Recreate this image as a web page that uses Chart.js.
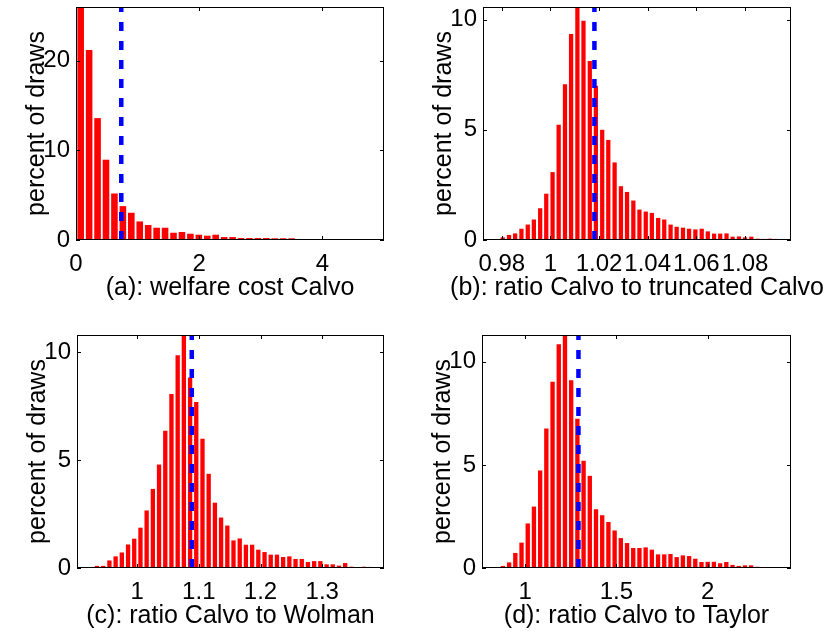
<!DOCTYPE html>
<html>
<head>
<meta charset="utf-8">
<script src="https://cdn.jsdelivr.net/npm/chart.js@4.4.1/dist/chart.umd.min.js"></script>
<style>
  body { margin: 0; background: #fff; }
  #wrap { position: relative; width: 832px; height: 632px; }
  #wrap canvas { position: absolute; }
</style>
</head>
<body>
<div id="wrap">
  <canvas id="panelA" width="416" height="316" style="left:0;top:0"></canvas>
  <canvas id="panelB" width="416" height="316" style="left:416px;top:0"></canvas>
  <canvas id="panelC" width="416" height="316" style="left:0;top:316px"></canvas>
  <canvas id="panelD" width="416" height="316" style="left:416px;top:316px"></canvas>
</div>
<script>
// (a) welfare cost Calvo
var welfareBins = [0.076, 0.213, 0.350, 0.487, 0.624, 0.761, 0.898, 1.035, 1.172, 1.309, 1.446, 1.583,
    1.720, 1.857, 1.994, 2.131, 2.268, 2.405, 2.542, 2.679, 2.816, 2.953, 3.090, 3.227,
    3.364, 3.501, 3.638, 3.775, 3.912, 4.049, 4.186, 4.323, 4.460, 4.597, 4.734, 4.871];
var welfareShares = [27, 21.2, 13.6, 8.96, 5.19, 3.78, 3.04, 2.07, 1.67, 1.37, 1.37, 0.81,
    0.89, 0.7, 0.59, 0.48, 0.59, 0.33, 0.33, 0.22, 0.22, 0.22, 0.22, 0.19,
    0.19, 0.19, 0.07, 0.04, 0.11, 0.1, 0.06, 0.04, 0.07, 0.05, 0.03, 0.03];
var welfareLine = 0.735;
var welfareTicks = [0, 2, 4];

// (b) ratio Calvo to truncated Calvo
var truncBins = [0.9753, 0.9779, 0.9804, 0.9830, 0.9855, 0.9881, 0.9907, 0.9932, 0.9958, 0.9983,
    1.0009, 1.0034, 1.0060, 1.0085, 1.0111, 1.0136, 1.0162, 1.0187, 1.0213, 1.0238,
    1.0264, 1.0290, 1.0315, 1.0341, 1.0366, 1.0392, 1.0417, 1.0443, 1.0468, 1.0494,
    1.0519, 1.0545, 1.0570, 1.0596, 1.0622, 1.0647, 1.0673, 1.0698, 1.0724, 1.0749,
    1.0775, 1.0800, 1.0826, 1.0851, 1.0877, 1.0902, 1.0928, 1.0953];
var truncShares = [0.03, 0.03, 0.12, 0.23, 0.3, 0.51, 0.7, 0.93, 1.44, 2.1,
    3.08, 5.23, 7.07, 9.35, 10.7, 9.95, 8.12, 7.0, 5.0, 4.54,
    3.52, 2.44, 2.18, 1.79, 1.38, 1.29, 1.23, 1.0, 0.93, 0.7,
    0.6, 0.56, 0.51, 0.48, 0.51, 0.39, 0.29, 0.29, 0.3, 0.15,
    0.16, 0.12, 0.15, 0.06, 0.05, 0.06, 0.05, 0.03];
var truncLine = 1.0181;
var truncTicks = [0.98, 1, 1.02, 1.04, 1.06, 1.08];

// (c) ratio Calvo to Wolman
var wolmanBins = [0.9351, 0.9452, 0.9552, 0.9653, 0.9753, 0.9854, 0.9954, 1.0055, 1.0155, 1.0256,
    1.0356, 1.0457, 1.0557, 1.0658, 1.0758, 1.0859, 1.0959, 1.1060, 1.1160, 1.1261,
    1.1361, 1.1462, 1.1562, 1.1663, 1.1763, 1.1864, 1.1964, 1.2065, 1.2165, 1.2266,
    1.2366, 1.2467, 1.2567, 1.2668, 1.2768, 1.2869, 1.2969, 1.3070, 1.3170, 1.3271,
    1.3371, 1.3472, 1.3572, 1.3673, 1.3773];
var wolmanShares = [0.1, 0.1, 0.35, 0.54, 0.72, 1.09, 1.36, 1.87, 2.67, 3.67,
    4.8, 6.37, 8.07, 9.87, 10.9, 8.84, 7.7, 6.0, 4.37, 3.03,
    2.34, 1.97, 1.28, 1.37, 1.08, 1.08, 0.85, 0.74, 0.62, 0.62,
    0.51, 0.54, 0.42, 0.42, 0.28, 0.32, 0.32, 0.17, 0.17, 0.11,
    0.23, 0.06, 0.02, 0.06, 0.05];
var wolmanLine = 1.0886;
var wolmanTicks = [1, 1.1, 1.2, 1.3];

// (d) ratio Calvo to Taylor
var taylorBins = [0.8446, 0.8786, 0.9126, 0.9466, 0.9806, 1.0146, 1.0486, 1.0826, 1.1166, 1.1506,
    1.1846, 1.2186, 1.2526, 1.2866, 1.3206, 1.3546, 1.3886, 1.4226, 1.4566, 1.4906,
    1.5246, 1.5586, 1.5926, 1.6266, 1.6606, 1.6946, 1.7286, 1.7626, 1.7966, 1.8306,
    1.8646, 1.8986, 1.9326, 1.9666, 2.0006, 2.0346, 2.0686, 2.1026, 2.1366, 2.1706,
    2.2046, 2.2386, 2.2726, 2.3066, 2.3406, 2.3746, 2.4086];
var taylorShares = [0.02, 0.1, 0.27, 0.73, 1.23, 2.16, 2.98, 4.73, 6.77, 9.03,
    10.85, 11.4, 9.1, 7.24, 5.2, 4.47, 2.85, 2.56, 2.23, 1.82,
    1.45, 1.21, 0.97, 0.97, 1.0, 0.89, 0.66, 0.66, 0.68, 0.53,
    0.61, 0.58, 0.45, 0.29, 0.3, 0.3, 0.23, 0.29, 0.15, 0.1,
    0.13, 0.13, 0.06, 0.03, 0.02, 0.03, 0.03];
var taylorLine = 1.2925;
var taylorTicks = [1, 1.5, 2];

var yTicksWide = [0, 10, 20];
var yTicks = [0, 5, 10];

var FONT = "'Liberation Sans', Arial, Helvetica, sans-serif";
var tickFont = { family: FONT, size: 24 };
var titleFont = { family: FONT, size: 25 };

// matlab style box with inward ticks on all four sides
var boxTicks = {
    id: 'boxTicks',
    afterDatasetsDraw: function(chart) {
        var ctx = chart.ctx, a = chart.chartArea;
        var x = chart.scales.x, y = chart.scales.y;
        ctx.save();
        ctx.strokeStyle = '#000';
        ctx.lineWidth = 1;
        ctx.beginPath();
        x.ticks.forEach(function(t) {
            var px = Math.round(x.getPixelForValue(t.value)) + 0.5;
            ctx.moveTo(px, a.bottom); ctx.lineTo(px, a.bottom - 4);
            ctx.moveTo(px, a.top); ctx.lineTo(px, a.top + 4);
        });
        y.ticks.forEach(function(t) {
            var py = Math.round(y.getPixelForValue(t.value)) + 0.5;
            ctx.moveTo(a.left, py); ctx.lineTo(a.left + 4, py);
            ctx.moveTo(a.right, py); ctx.lineTo(a.right - 4, py);
        });
        ctx.stroke();
        ctx.strokeRect(Math.round(a.left) + 0.5, Math.round(a.top) + 0.5,
            Math.round(a.width) - 1, Math.round(a.height) - 1);
        ctx.restore();
    }
};

// x label drawn by hand: the scale title would squeeze long text to the axis width
var xLabel = {
    id: 'xLabel',
    afterDraw: function(chart, args, opts) {
        var ctx = chart.ctx, a = chart.chartArea;
        ctx.save();
        ctx.font = titleFont.size + 'px ' + FONT;
        ctx.fillStyle = '#000';
        ctx.textAlign = 'center';
        ctx.textBaseline = 'middle';
        ctx.fillText(opts.text, (a.left + a.right) / 2, a.bottom + 48);
        ctx.restore();
    }
};

function noPad(s) {
    s.paddingLeft = 0; s.paddingRight = 0; s.paddingTop = 0; s.paddingBottom = 0;
}

function drawPanel(id, p) {
    var canvas = document.getElementById(id);
    var W = canvas.width, H = canvas.height;

    new Chart(canvas, {
        type: 'bar',
        data: {
            datasets: [{
                type: 'line',
                data: [{ x: p.line, y: 0 }, { x: p.line, y: p.ymax }],
                borderColor: '#0000ff',
                borderWidth: 4.5,
                borderDash: [9, 10],
                pointRadius: 0,
                clip: 0,
                order: 0
            }, {
                type: 'bar',
                data: p.bins.map(function(b, i) { return { x: b, y: p.shares[i] }; }),
                backgroundColor: '#ff0000',
                borderWidth: 0,
                barPercentage: p.barPct,
                categoryPercentage: 1,
                clip: 0,
                order: 1
            }]
        },
        options: {
            responsive: false,
            animation: false,
            events: [],
            layout: {
                autoPadding: false,
                padding: { left: 0, top: p.area.top, right: W - p.area.right, bottom: 0 }
            },
            plugins: {
                legend: { display: false },
                tooltip: { enabled: false },
                xLabel: { text: p.xlabel }
            },
            scales: {
                x: {
                    type: 'linear',
                    min: p.xmin,
                    max: p.xmax,
                    offset: false,
                    grid: { display: false, drawTicks: false },
                    border: { display: false },
                    afterBuildTicks: function(s) {
                        s.ticks = p.xticks.map(function(v) { return { value: v }; });
                    },
                    afterFit: function(s) { s.height = H - p.area.bottom; noPad(s); },
                    ticks: {
                        autoSkip: false, maxRotation: 0, minRotation: 0,
                        padding: 10, font: tickFont, color: '#000',
                        callback: function(v) { return String(+v.toFixed(2)); }
                    }
                },
                y: {
                    min: 0,
                    max: p.ymax,
                    grid: { display: false, drawTicks: false },
                    border: { display: false },
                    afterBuildTicks: function(s) {
                        s.ticks = p.yticks.map(function(v) { return { value: v }; });
                    },
                    afterFit: function(s) { s.width = p.area.left; noPad(s); },
                    ticks: {
                        padding: 6, font: tickFont, color: '#000',
                        callback: function(v) { return String(v); }
                    },
                    title: {
                        display: true, text: 'percent of draws', font: titleFont, color: '#000',
                        padding: { top: p.area.left - 54, bottom: 0 }
                    }
                }
            }
        },
        plugins: [boxTicks, xLabel]
    });
}

drawPanel('panelA', {
    bins: welfareBins, shares: welfareShares, line: welfareLine,
    xmin: 0, xmax: 5, ymax: 26, xticks: welfareTicks, yticks: yTicksWide,
    xlabel: '(a): welfare cost Calvo', barPct: 0.78,
    area: { left: 76, right: 384, top: 7, bottom: 240 }
});
drawPanel('panelB', {
    bins: truncBins, shares: truncShares, line: truncLine,
    xmin: 0.9723, xmax: 1.0989, ymax: 10.57, xticks: truncTicks, yticks: yTicks,
    xlabel: '(b): ratio Calvo to truncated Calvo', barPct: 0.7,
    area: { left: 67, right: 375, top: 7, bottom: 240 }
});
drawPanel('panelC', {
    bins: wolmanBins, shares: wolmanShares, line: wolmanLine,
    xmin: 0.9027, xmax: 1.4, ymax: 10.81, xticks: wolmanTicks, yticks: yTicks,
    xlabel: '(c): ratio Calvo to Wolman', barPct: 0.7,
    area: { left: 77, right: 384, top: 19, bottom: 252 }
});
drawPanel('panelD', {
    bins: taylorBins, shares: taylorShares, line: taylorLine,
    xmin: 0.764, xmax: 2.457, ymax: 11.3, xticks: taylorTicks, yticks: yTicks,
    xlabel: '(d): ratio Calvo to Taylor', barPct: 0.7,
    area: { left: 66, right: 375, top: 19, bottom: 252 }
});
</script>
</body>
</html>
